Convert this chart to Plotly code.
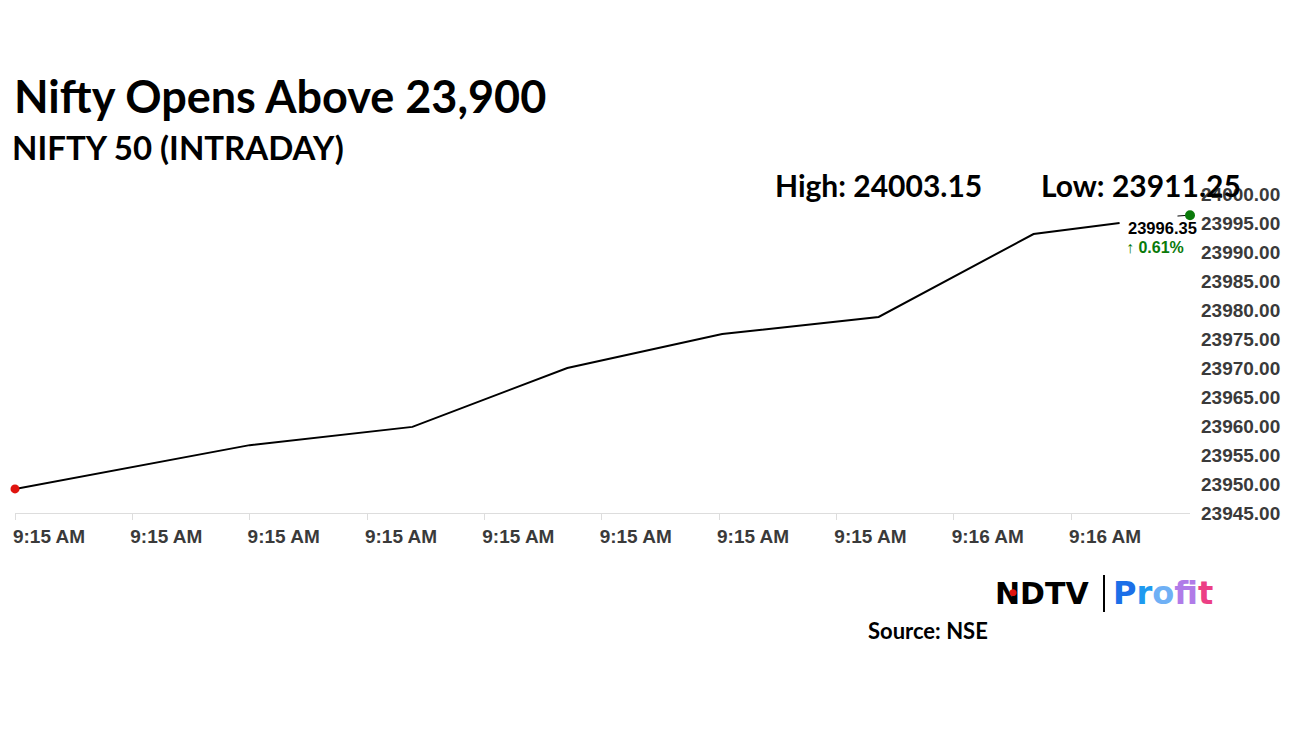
import plotly.graph_objects as go

# ---- data ----
day = "2024-06-20 "
times = ["09:15:00", "09:15:15", "09:15:25.4", "09:15:35.3", "09:15:45.2",
         "09:15:55.2", "09:16:05.1", "09:16:10.6"]
values = [23949.15, 23956.70, 23959.85, 23970.00, 23975.85,
          23978.80, 23993.10, 23995.00]
last_time = "09:16:15.1"
last_tail_time = "09:16:14.3"
last_value = 23996.35
last_tail_value = 23996.20
change_pct = 0.61
day_high = 24003.15
day_low = 23911.25
y_min, y_max, y_step = 23945, 24000, 5
tick_times = ["09:15:00", "09:15:07.5", "09:15:15", "09:15:22.5", "09:15:30",
              "09:15:37.5", "09:15:45", "09:15:52.5", "09:16:00", "09:16:07.5"]

title = "Nifty Opens Above 23,900"
subtitle = "NIFTY 50 (INTRADAY)"
source = "Source: NSE"

W, H = 1296, 729
L, R, T, B = 15, 1190, 194, 513


def px(x):
    return (x - L) / (R - L)


def py(y):
    return (B - y) / (B - T)


xs = [day + t for t in times]

fig = go.Figure()
fig.add_trace(go.Scatter(x=xs, y=values, mode="lines",
                         line=dict(color="black", width=2),
                         hoverinfo="skip", showlegend=False))
fig.add_trace(go.Scatter(x=[xs[0]], y=[values[0]], mode="markers",
                         marker=dict(color="#e0140f", size=9),
                         cliponaxis=False, showlegend=False))
fig.add_trace(go.Scatter(x=[day + last_tail_time, day + last_time],
                         y=[last_tail_value, last_value], mode="lines",
                         line=dict(color="black", width=1),
                         cliponaxis=False, showlegend=False))
fig.add_trace(go.Scatter(x=[day + last_time], y=[last_value], mode="markers",
                         marker=dict(color="#0a7a0a", size=10),
                         cliponaxis=False, showlegend=False))

fig.update_layout(
    width=W, height=H, autosize=False,
    margin=dict(l=L, r=W - R, t=T, b=H - B),
    paper_bgcolor="white", plot_bgcolor="white",
    showlegend=False,
)
tick_font = dict(family="Arial", size=19, color="#3a3a3a", weight="bold")
fig.update_xaxes(
    type="date", automargin=False,
    range=[xs[0], day + last_time],
    tickmode="array", tickvals=[day + t for t in tick_times],
    tickformat="%-I:%M %p",
    ticks="outside", ticklen=6, tickcolor="#dddddd",
    showline=True, linecolor="#dddddd", linewidth=1,
    showgrid=False, zeroline=False,
    tickfont=tick_font,
    ticklabelshift=34,
)
fig.update_yaxes(
    side="right", automargin=False,
    range=[y_min, y_max],
    tickmode="linear", tick0=y_min, dtick=y_step,
    tickformat=".2f",
    showgrid=False, zeroline=False, showline=False,
    ticks="", ticklabelstandoff=10,
    tickfont=tick_font,
)

ann = []
ann.append(dict(text=f"<b>{title}</b>", x=px(12), y=py(96), xanchor="left", yanchor="middle",
                font=dict(family="Lato", size=45, color="black")))
ann.append(dict(text=f"<b>{subtitle}</b>", x=px(10), y=py(147), xanchor="left", yanchor="middle",
                font=dict(family="Lato", size=33, color="black")))
ann.append(dict(text=f"<b>High: {day_high:.2f}</b>", x=px(773), y=py(185), xanchor="left", yanchor="middle",
                font=dict(family="Lato", size=30, color="black")))
ann.append(dict(text=f"<b>Low: {day_low:.2f}</b>", x=px(1039), y=py(185), xanchor="left", yanchor="middle",
                font=dict(family="Lato", size=30, color="black")))
ann.append(dict(text=f"<b>{last_value:.2f}</b>", x=px(1126), y=py(228), xanchor="left", yanchor="middle",
                font=dict(family="Arial", size=16.5, color="black")))
ann.append(dict(text=f"<b>\u2191 {change_pct:.2f}%</b>", x=px(1124), y=py(247), xanchor="left", yanchor="middle",
                font=dict(family="Arial", size=16, color="#0a7a0a")))
ann.append(dict(text=f"<b>{source}</b>", x=px(866), y=py(630), xanchor="left", yanchor="middle",
                font=dict(family="Lato", size=22, color="black")))
# logo
ann.append(dict(text="<b>NDTV</b>",
                x=px(993), y=py(593), xanchor="left", yanchor="middle",
                font=dict(family="DejaVu Sans", size=30, color="black")))
ann.append(dict(text="\u25cf", x=px(1013), y=py(592), xanchor="center", yanchor="middle",
                font=dict(family="DejaVu Sans", size=9, color="#e0140f")))
profit_colors = ["#1b6fe8", "#1e9af0", "#6fb0f5", "#b07be8", "#e447d8", "#ec3f85"]
profit_txt = "".join(f"<span style='color:{c}'>{ch}</span>" for ch, c in zip("Profit", profit_colors))
ann.append(dict(text=f"<b>{profit_txt}</b>", x=px(1111), y=py(593), xanchor="left", yanchor="middle",
                font=dict(family="DejaVu Sans", size=32)))
for a in ann:
    a.update(xref="paper", yref="paper", showarrow=False)
fig.update_layout(annotations=ann)
fig.add_shape(type="line", xref="paper", yref="paper",
              x0=px(1104), x1=px(1104), y0=py(575), y1=py(612),
              line=dict(color="black", width=2))

fig.write_html("out.html", config={"displayModeBar": False},
               post_script="document.body.style.margin='0';document.body.style.padding='0';")
